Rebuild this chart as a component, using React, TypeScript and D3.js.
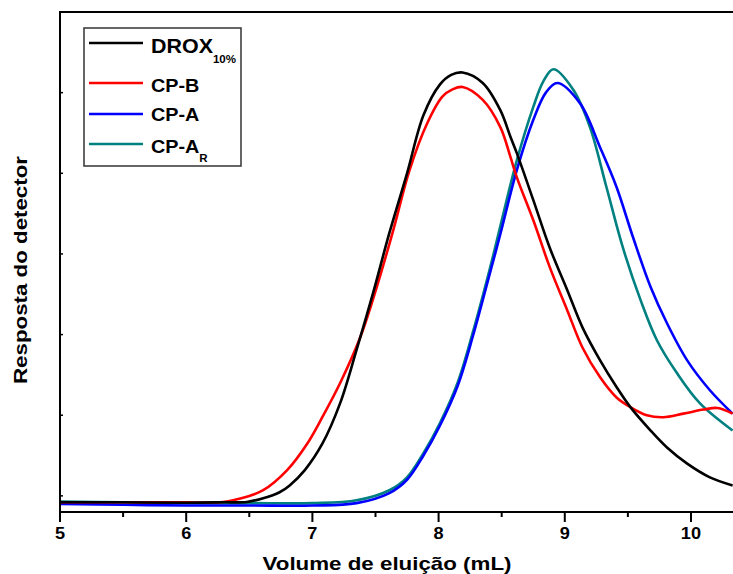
import React from "react";
import * as d3 from "d3";

// Elution volume (mL) and detector response (arbitrary units) for each sample
const droxX = [5.0, 5.5, 6.0, 6.29, 6.48, 6.61, 6.74, 6.82, 6.94, 7.08, 7.22, 7.35, 7.48, 7.61, 7.75, 7.88, 8.01, 8.1, 8.19, 8.35, 8.49, 8.57, 8.62, 8.75, 8.88, 9.02, 9.14, 9.28, 9.41, 9.52, 9.68, 9.81, 9.97, 10.15, 10.33];
const droxY = [-0.08, -0.08, -0.085, -0.08, -0.075, -0.03, 0.045, 0.13, 0.32, 0.65, 1.15, 1.81, 2.51, 3.26, 4.0, 4.72, 5.1, 5.22, 5.25, 5.12, 4.78, 4.45, 4.25, 3.67, 3.08, 2.55, 2.09, 1.68, 1.35, 1.1, 0.81, 0.6, 0.4, 0.23, 0.13];

const cpbX = [5.0, 5.5, 6.0, 6.29, 6.48, 6.61, 6.8, 6.96, 7.08, 7.22, 7.38, 7.51, 7.64, 7.77, 7.91, 8.03, 8.11, 8.19, 8.35, 8.49, 8.57, 8.62, 8.75, 8.88, 9.02, 9.14, 9.28, 9.41, 9.52, 9.65, 9.78, 9.94, 10.1, 10.21, 10.33];
const cpbY = [-0.08, -0.08, -0.08, -0.075, -0.01, 0.07, 0.32, 0.65, 0.98, 1.4, 1.97, 2.59, 3.29, 4.04, 4.62, 4.95, 5.04, 5.07, 4.91, 4.57, 4.2, 3.95, 3.42, 2.84, 2.3, 1.84, 1.47, 1.22, 1.1, 1.0, 0.975, 1.02, 1.07, 1.09, 1.02];

const cpaX = [5.0, 5.5, 6.0, 6.5, 7.0, 7.35, 7.61, 7.75, 7.88, 8.01, 8.15, 8.27, 8.41, 8.49, 8.62, 8.75, 8.85, 8.94, 9.12, 9.28, 9.41, 9.54, 9.68, 9.81, 9.97, 10.15, 10.33];
const cpaY = [-0.1, -0.11, -0.12, -0.12, -0.12, -0.09, 0.035, 0.2, 0.5, 0.87, 1.36, 1.97, 2.78, 3.25, 4.04, 4.66, 5.0, 5.12, 4.87, 4.32, 3.83, 3.21, 2.59, 2.14, 1.68, 1.31, 1.02];

const cparX = [5.0, 5.5, 6.0, 6.5, 7.0, 7.35, 7.61, 7.75, 7.88, 8.01, 8.15, 8.27, 8.41, 8.49, 8.62, 8.75, 8.83, 8.91, 9.07, 9.2, 9.33, 9.46, 9.6, 9.73, 9.89, 10.07, 10.33];
const cparY = [-0.07, -0.08, -0.09, -0.09, -0.09, -0.055, 0.07, 0.23, 0.53, 0.9, 1.4, 2.02, 2.84, 3.35, 4.16, 4.82, 5.14, 5.29, 5.03, 4.57, 3.83, 3.08, 2.43, 1.93, 1.52, 1.15, 0.81];

const xTicks = [5, 6, 7, 8, 9, 10];
const xMinorTicks = [5.5, 6.5, 7.5, 8.5, 9.5];
const yTicks = [0, 1, 2, 3, 4, 5, 6];

const seriesNames = ["DROX", "CP-B", "CP-A", "CP-A"];
const seriesSubs = ["10%", "", "", "R"];
const seriesColors = ["#000000", "#ff0000", "#0000ff", "#008080"];

const FONT = "'Liberation Sans', Arial, Helvetica, sans-serif";

export default function App() {
  const width = 733;
  const height = 574;
  const left = 60;
  const right = 733;
  const top = 12;
  const bottom = 512;

  const x = d3.scaleLinear().domain([5, 10.333]).range([left, right]);
  const y = d3.scaleLinear().domain([-0.2, 6]).range([bottom, top]);

  const line = d3
    .line<[number, number]>()
    .x((d) => x(d[0]))
    .y((d) => y(d[1]))
    .curve(d3.curveCatmullRom.alpha(0.5));

  const series = [
    d3.zip(droxX, droxY) as [number, number][],
    d3.zip(cpbX, cpbY) as [number, number][],
    d3.zip(cpaX, cpaY) as [number, number][],
    d3.zip(cparX, cparY) as [number, number][],
  ];

  // legend layout: line y, text baseline
  const legendRows = [
    { ly: 43, by: 53 },
    { ly: 83, by: 92 },
    { ly: 114, by: 121 },
    { ly: 144, by: 153 },
  ];

  return (
    <svg
      width={width}
      height={height}
      style={{ position: "absolute", left: 0, top: 0, background: "#fff" }}
      fontFamily={FONT}
    >
      <defs>
        <clipPath id="plotArea">
          <rect x={left} y={top} width={right - left} height={bottom - top} />
        </clipPath>
      </defs>
      <rect x={0} y={0} width={width} height={height} fill="#fff" />

      {/* curves */}
      <g clipPath="url(#plotArea)">
        {[3, 2, 1, 0].map((i) => (
          <path
            key={i}
            d={line(series[i]) || ""}
            fill="none"
            stroke={seriesColors[i]}
            strokeWidth={2.6}
            strokeLinejoin="round"
          />
        ))}
      </g>

      {/* frame */}
      <line x1={left} x2={right} y1={top} y2={top} stroke="#000" strokeWidth={2} />
      <line x1={left} x2={left} y1={top - 1} y2={bottom + 1} stroke="#000" strokeWidth={2} />
      <line x1={left - 1} x2={right} y1={bottom} y2={bottom} stroke="#000" strokeWidth={2.2} />

      {/* y ticks (inward, no labels) */}
      {yTicks.map((t) => (
        <line key={"y" + t} x1={left} x2={left + 3} y1={y(t)} y2={y(t)} stroke="#000" strokeWidth={1.5} />
      ))}

      {/* x ticks */}
      {xTicks.map((t) => (
        <g key={"x" + t}>
          <line x1={x(t)} x2={x(t)} y1={bottom} y2={bottom + 10} stroke="#000" strokeWidth={2} />
          <text
            transform={`translate(${x(t)},539) scale(1.07,1)`}
            textAnchor="middle"
            fontSize={17}
            fontWeight="bold"
          >
            {t}
          </text>
        </g>
      ))}
      {xMinorTicks.map((t) => (
        <line key={"xm" + t} x1={x(t)} x2={x(t)} y1={bottom} y2={bottom + 5} stroke="#000" strokeWidth={2} />
      ))}

      {/* axis titles */}
      <text
        x={387}
        y={570}
        textAnchor="middle"
        fontSize={19}
        fontWeight="bold"
        textLength={249}
        lengthAdjust="spacingAndGlyphs"
      >
        Volume de eluição (mL)
      </text>
      <text
        transform="translate(27,270) rotate(-90)"
        textAnchor="middle"
        fontSize={18}
        fontWeight="bold"
        textLength={228}
        lengthAdjust="spacingAndGlyphs"
      >
        Resposta do detector
      </text>

      {/* legend */}
      <rect x={84} y={28} width={157} height={138} fill="#fff" stroke="#333" strokeWidth={1.5} />
      {seriesNames.map((name, i) => (
        <g key={"lg" + i}>
          <line
            x1={89}
            x2={143}
            y1={legendRows[i].ly}
            y2={legendRows[i].ly}
            stroke={seriesColors[i]}
            strokeWidth={2.6}
          />
          <text
            transform={`translate(151,${legendRows[i].by}) scale(1.1,1)`}
            fontSize={i === 0 ? 19.5 : 18}
            fontWeight="bold"
          >
            {name}
            {seriesSubs[i] && (
              <tspan fontSize={10.5} dy={i === 0 ? 10 : 9}>
                {seriesSubs[i]}
              </tspan>
            )}
          </text>
        </g>
      ))}
    </svg>
  );
}
